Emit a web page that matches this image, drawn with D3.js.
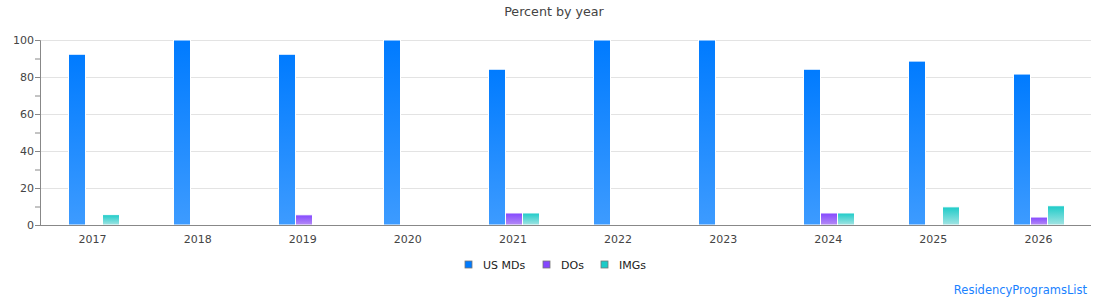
<!DOCTYPE html>
<html>
<head>
<meta charset="utf-8">
<script src="https://cdn.jsdelivr.net/npm/d3@7"></script>
<style>
  body { margin: 0; background: #fff; font-family: "DejaVu Sans", sans-serif; }
  svg text { font-family: "DejaVu Sans", sans-serif; }
</style>
</head>
<body>
<svg id="chart"></svg>
<script>
let years = ["2017", "2018", "2019", "2020", "2021", "2022", "2023", "2024", "2025", "2026"]
let usMDs = [92.3, 100, 92.3, 100, 84.2, 100, 100, 84.2, 88.6, 81.6]
let dos   = [0, 0, 5.5, 0, 6.5, 0, 0, 6.5, 0, 4.3]
let imgs  = [5.6, 0, 0, 0, 6.5, 0, 0, 6.5, 9.8, 10.4]
let seriesNames = ["US MDs", "DOs", "IMGs"]
let yTicks = [0, 20, 40, 60, 80, 100]

let width = 1110
let height = 300
let plotLeft = 40, plotRight = 1091, plotTop = 40, plotBottom = 225

let colors = [
    { top: "#007bff", bottom: "#3d9bff" },
    { top: "#8447ff", bottom: "#b48cf5" },
    { top: "#1ccbc8", bottom: "#a3e4e3" }
]

let svg = d3.select("#chart").attr("width", width).attr("height", height)

let defs = svg.append("defs")
colors.forEach((c, i) => {
    let g = defs.append("linearGradient")
        .attr("id", "grad" + i)
        .attr("x1", 0).attr("y1", 0).attr("x2", 0).attr("y2", 1)
    g.append("stop").attr("offset", "0%").attr("stop-color", c.top)
    g.append("stop").attr("offset", "100%").attr("stop-color", c.bottom)
})

let xScale = d3.scaleBand().domain(years).range([plotLeft, plotRight])
let inner = d3.scaleBand().domain(seriesNames).range([0, 51])
let yScale = d3.scaleLinear().domain([0, 100]).range([plotBottom, plotTop])

// grid
svg.append("g")
    .selectAll("line")
    .data(yTicks.filter(d => d > 0))
    .enter()
    .append("line")
    .attr("x1", plotLeft).attr("x2", plotRight)
    .attr("y1", d => yScale(d) + 0.5).attr("y2", d => yScale(d) + 0.5)
    .attr("stroke", "#e3e3e3")
    .attr("stroke-width", 1)

// bars
let rows = years.map((y, i) => ({ year: y, vals: [usMDs[i], dos[i], imgs[i]] }))

let groups = svg.append("g")
    .selectAll("g")
    .data(rows)
    .enter()
    .append("g")
    .attr("transform", d => "translate(" + Math.round(xScale(d.year) + xScale.bandwidth() / 2 - 24) + ",0)")

groups.selectAll("rect")
    .data(d => d.vals.map((v, i) => ({ v: v, i: i })).filter(e => e.v > 0))
    .enter()
    .append("rect")
    .attr("x", d => inner(seriesNames[d.i]) - 0.5)
    .attr("width", inner.bandwidth())
    .attr("y", d => yScale(d.v))
    .attr("height", d => yScale(0) - yScale(d.v))
    .attr("fill", d => "url(#grad" + d.i + ")")
    .attr("stroke", "#fff")
    .attr("stroke-width", 1)

// y axis
let yAxis = d3.axisLeft(yScale)
    .tickValues(d3.range(0, 101, 10))
    .tickSize(5)
    .tickFormat(d => d % 20 === 0 ? d : "")

let yG = svg.append("g")
    .attr("transform", "translate(" + plotLeft + ",0)")
    .call(yAxis)
yG.select(".domain").attr("stroke", "#888")
yG.selectAll(".tick line").attr("stroke", "#888")
yG.selectAll(".tick text").attr("fill", "#444").style("font-size", "11px").attr("x", -6)

// x axis
let xAxis = d3.axisBottom(xScale).tickSize(0).tickPadding(10)
let xG = svg.append("g")
    .attr("transform", "translate(0," + plotBottom + ")")
    .call(xAxis)
xG.select(".domain").attr("stroke", "#888").attr("d", "M" + plotLeft + ",0.5H" + plotRight)
xG.selectAll(".tick text").attr("fill", "#444").style("font-size", "11px")

// title
svg.append("text")
    .text("Percent by year")
    .attr("x", 554)
    .attr("y", 16)
    .attr("text-anchor", "middle")
    .attr("fill", "#444")
    .style("font-size", "12.7px")

// legend
let legendX = [465, 543, 601]
let legend = svg.append("g")
seriesNames.forEach((name, i) => {
    legend.append("rect")
        .attr("x", legendX[i]).attr("y", 261)
        .attr("width", 7).attr("height", 7)
        .attr("fill", colors[i].top)
        .attr("stroke", "#777")
        .attr("stroke-width", 0.8)
    legend.append("text")
        .text(name)
        .attr("x", legendX[i] + 18)
        .attr("y", 269)
        .attr("fill", "#222")
        .style("font-size", "11px")
})

// credit
svg.append("text")
    .text("ResidencyProgramsList")
    .attr("x", 1087)
    .attr("y", 294)
    .attr("text-anchor", "end")
    .attr("fill", "#1a82ff")
    .style("font-size", "11.5px")
</script>
</body>
</html>
